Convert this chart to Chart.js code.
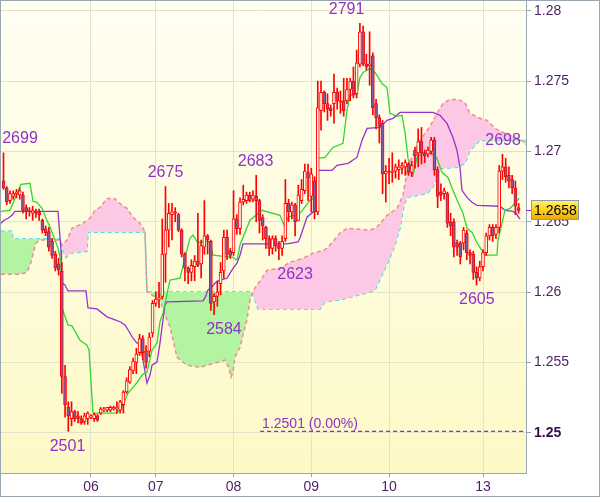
<!DOCTYPE html>
<html><head><meta charset="utf-8">
<script src="https://cdn.jsdelivr.net/npm/chart.js@4.4.1/dist/chart.umd.min.js"></script>
<style>html,body{margin:0;padding:0;background:#fff;}#wrap{width:600px;height:497px;}</style>
</head><body><div id="wrap"><canvas id="c" width="600" height="497"></canvas></div>
<script>
// ---- data ----
const dayIdx = [27, 47, 71, 95, 119, 148];
const dayLabels = ['06', '07', '08', '09', '10', '13'];
const yTicks = [1.25, 1.255, 1.26, 1.265, 1.27, 1.275, 1.28];

const opens = [
1.2679,1.2674,1.2665,1.2668,1.2670,1.2669,1.2669,1.2660,1.2658,1.2656,
1.2657,1.2657,1.2651,1.2645,1.2643,1.2636,1.2627,1.2620,1.2615,1.2540,
1.2518,1.2510,1.2515,1.2512,1.2510,1.2508,1.2510,1.2511,1.2510,1.2512,
1.2514,1.2516,1.2516,1.2516,1.2517,1.2517,1.2516,1.2520,1.2529,1.2536,
1.2544,1.2550,1.2557,1.2567,1.2558,1.2558,1.2571,1.2592,1.2595,1.2597,
1.2627,1.2644,1.2655,1.2657,1.2655,1.2644,1.2627,1.2617,1.2614,1.2618,
1.2622,1.2620,1.2632,1.2640,1.2636,1.2593,1.2597,1.2606,1.2615,1.2639,
1.2629,1.2628,1.2652,1.2645,1.2664,1.2665,1.2669,1.2666,1.2668,1.2665,
1.2653,1.2646,1.2638,1.2631,1.2638,1.2633,1.2631,1.2638,1.2663,1.2657,
1.2662,1.2651,1.2665,1.2672,1.2685,1.2668,1.2679,1.2657,1.2729,1.2742,
1.2734,1.2731,1.2734,1.2742,1.2736,1.2736,1.2736,1.2744,1.2750,1.2741,
1.2762,1.2785,1.2762,1.2761,1.2768,1.2734,1.2724,1.2720,1.2684,1.2686,
1.2685,1.2686,1.2687,1.2688,1.2689,1.2691,1.2685,1.2701,1.2699,1.2707,
1.2699,1.2698,1.2700,1.2708,1.2687,1.2671,1.2670,1.2670,1.2650,1.2650,
1.2635,1.2635,1.2635,1.2642,1.2628,1.2627,1.2614,1.2610,1.2618,1.2628,
1.2640,1.2646,1.2641,1.2646,1.2686,1.2689,1.2683,1.2680,1.2674,1.2660];
const highs = [
1.2699,1.2675,1.2672,1.2672,1.2673,1.2674,1.2671,1.2662,1.2660,1.2661,
1.2659,1.2659,1.2652,1.2647,1.2646,1.2638,1.2629,1.2624,1.2621,1.2548,
1.2522,1.2522,1.2516,1.2515,1.2512,1.2514,1.2515,1.2513,1.2514,1.2513,
1.2518,1.2518,1.2518,1.2519,1.2519,1.2522,1.2523,1.2530,1.2539,1.2547,
1.2553,1.2560,1.2570,1.2569,1.2562,1.2571,1.2594,1.2600,1.2607,1.2652,
1.2675,1.2663,1.2663,1.2660,1.2656,1.2645,1.2628,1.2618,1.2623,1.2626,
1.2656,1.2637,1.2665,1.2641,1.2637,1.2599,1.2608,1.2621,1.2644,1.2644,
1.2631,1.2672,1.2655,1.2667,1.2676,1.2671,1.2671,1.2672,1.2683,1.2666,
1.2655,1.2647,1.2640,1.2640,1.2640,1.2636,1.2640,1.2680,1.2666,1.2664,
1.2663,1.2676,1.2680,1.2691,1.2691,1.2688,1.2682,1.2750,1.2750,1.2743,
1.2741,1.2733,1.2755,1.2745,1.2743,1.2752,1.2752,1.2752,1.2760,1.2772,
1.2791,1.2789,1.2769,1.2785,1.2770,1.2737,1.2726,1.2722,1.2690,1.2695,
1.2699,1.2691,1.2694,1.2692,1.2694,1.2692,1.2693,1.2703,1.2716,1.2717,
1.2701,1.2703,1.2710,1.2710,1.2689,1.2677,1.2674,1.2671,1.2656,1.2652,
1.2637,1.2636,1.2646,1.2644,1.2630,1.2629,1.2618,1.2622,1.2630,1.2642,
1.2648,1.2648,1.2648,1.2690,1.2698,1.2695,1.2689,1.2683,1.2679,1.2663];
const lows = [
1.2673,1.2662,1.2663,1.2666,1.2667,1.2666,1.2656,1.2652,1.2654,1.2651,
1.2653,1.2651,1.2642,1.2640,1.2629,1.2624,1.2615,1.2612,1.2528,1.2511,
1.2501,1.2505,1.2508,1.2507,1.2506,1.2506,1.2506,1.2510,1.2508,1.2508,
1.2513,1.2515,1.2515,1.2515,1.2516,1.2514,1.2514,1.2514,1.2528,1.2535,
1.2542,1.2542,1.2555,1.2552,1.2546,1.2554,1.2568,1.2590,1.2589,1.2595,
1.2607,1.2632,1.2637,1.2650,1.2643,1.2625,1.2608,1.2606,1.2608,1.2608,
1.2618,1.2610,1.2627,1.2627,1.2587,1.2584,1.2590,1.2598,1.2610,1.2623,
1.2624,1.2626,1.2641,1.2641,1.2662,1.2663,1.2664,1.2664,1.2650,1.2642,
1.2637,1.2631,1.2626,1.2627,1.2629,1.2623,1.2626,1.2636,1.2650,1.2652,
1.2640,1.2651,1.2663,1.2670,1.2665,1.2657,1.2652,1.2655,1.2715,1.2728,
1.2722,1.2725,1.2720,1.2730,1.2727,1.2725,1.2734,1.2736,1.2738,1.2738,
1.2760,1.2761,1.2758,1.2747,1.2726,1.2716,1.2706,1.2670,1.2664,1.2677,
1.2678,1.2681,1.2680,1.2684,1.2683,1.2683,1.2682,1.2688,1.2689,1.2691,
1.2692,1.2696,1.2698,1.2683,1.2660,1.2665,1.2666,1.2646,1.2640,1.2625,
1.2626,1.2620,1.2630,1.2623,1.2620,1.2609,1.2605,1.2608,1.2615,1.2626,
1.2637,1.2636,1.2638,1.2642,1.2680,1.2678,1.2674,1.2670,1.2655,1.2656];
const closes = [
1.2674,1.2664,1.2670,1.2670,1.2671,1.2672,1.2658,1.2657,1.2657,1.2658,
1.2656,1.2655,1.2644,1.2642,1.2632,1.2626,1.2617,1.2616,1.2540,1.2520,
1.2512,1.2515,1.2510,1.2510,1.2507,1.2512,1.2514,1.2512,1.2513,1.2509,
1.2517,1.2517,1.2518,1.2518,1.2518,1.2518,1.2522,1.2529,1.2537,1.2545,
1.2551,1.2556,1.2567,1.2557,1.2550,1.2568,1.2592,1.2595,1.2596,1.2627,
1.2644,1.2656,1.2657,1.2656,1.2644,1.2627,1.2617,1.2614,1.2619,1.2622,
1.2619,1.2633,1.2640,1.2637,1.2592,1.2597,1.2600,1.2614,1.2639,1.2627,
1.2626,1.2652,1.2645,1.2664,1.2666,1.2669,1.2665,1.2669,1.2665,1.2651,
1.2647,1.2638,1.2631,1.2638,1.2633,1.2631,1.2636,1.2663,1.2657,1.2662,
1.2650,1.2669,1.2673,1.2686,1.2681,1.2684,1.2657,1.2731,1.2742,1.2734,
1.2730,1.2729,1.2742,1.2736,1.2735,1.2729,1.2744,1.2750,1.2740,1.2763,
1.2785,1.2762,1.2760,1.2762,1.2731,1.2724,1.2718,1.2684,1.2686,1.2685,
1.2686,1.2689,1.2689,1.2690,1.2692,1.2685,1.2690,1.2697,1.2707,1.2699,
1.2697,1.2701,1.2708,1.2687,1.2668,1.2669,1.2672,1.2649,1.2647,1.2632,
1.2632,1.2625,1.2644,1.2628,1.2626,1.2614,1.2610,1.2618,1.2628,1.2640,
1.2646,1.2640,1.2646,1.2686,1.2689,1.2682,1.2679,1.2674,1.2661,1.2658];

// Tenkan (green)
const tenkanX = [-0.77,2.0,2.93,5.4,8.18,9.1,10.34,11.88,13.12,14.35,15.9,16.82,17.75,18.06,19.91,21.14,23.61,25.77,26.39,27.62,35.03,36.88,38.43,40.59,43.06,44.29,45.83,47.38,48.3,49.23,51.39,54.48,56.02,57.56,58.49,60.03,62.19,63.73,64.66,70.83,72.07,72.99,76.08,79.78,85.34,86.88,87.81,91.51,94.6,96.14,97.07,99.23,101.7,104.78,106.02,106.94,109.1,110.03,110.96,113.12,114.66,116.82,118.36,119.29,121.45,123,123.92,124.85,126.39,127.62,129.17,132.25,133.8,135.34,137.19,138.73,140.28,141.82,143.06,144.6,146.14,147.69,148.61,152.31,152.62,153.86,154.78,156.33,157.87,159.1];
const tenkanY = [1.26574,1.26581,1.26631,1.26766,1.26773,1.26645,1.26638,1.26595,1.26525,1.26461,1.2637,1.26314,1.26212,1.25887,1.25767,1.2576,1.25658,1.25623,1.25587,1.2514,1.2514,1.25197,1.25282,1.25339,1.25417,1.25431,1.25587,1.25637,1.25789,1.25852,1.26085,1.26099,1.26247,1.26384,1.26405,1.26349,1.26363,1.26356,1.26262,1.26247,1.26226,1.26335,1.26511,1.26581,1.26546,1.26461,1.26532,1.2656,1.26652,1.26673,1.2695,1.26957,1.27028,1.27057,1.27291,1.27398,1.27412,1.27525,1.27561,1.27589,1.27561,1.27483,1.27454,1.2727,1.27249,1.27256,1.27135,1.2695,1.2683,1.26957,1.26986,1.26986,1.2695,1.26851,1.26815,1.26723,1.26638,1.2656,1.26454,1.26426,1.26349,1.26297,1.26262,1.26262,1.2637,1.26489,1.26581,1.26595,1.26631,1.26666];
// Kijun (purple)
const kijunX = [-0.77,0.15,1.39,2.62,3.55,16.82,17.75,17.9,18.98,19.91,25.46,26.08,28.86,31.94,34.41,35.96,37.5,38.43,39.97,41.2,42.13,43.06,44.29,45.22,45.83,47.38,48.3,49.23,49.85,50.46,61.57,62.19,63.12,64.35,65.28,66.82,68.98,70.83,72.07,72.99,73.92,87.5,90.9,91.51,93.67,96.14,97.07,101.39,102.93,106.33,109.1,110.65,112.19,116.2,118.36,120.22,122.38,132.56,134.72,136.88,138.73,139.97,140.9,141.51,143.06,144.6,146.14,153.24,154.78,157.25,158.18,159.41];
const kijunY = [1.26489,1.26511,1.26525,1.26546,1.26574,1.26574,1.26297,1.26071,1.2605,1.26008,1.26008,1.25887,1.2588,1.25824,1.25803,1.25789,1.25767,1.25732,1.25672,1.25637,1.25637,1.25516,1.25353,1.2541,1.2548,1.25502,1.25637,1.25803,1.25909,1.2593,1.25937,1.25958,1.26015,1.26036,1.26064,1.26085,1.26099,1.26169,1.26205,1.26262,1.26342,1.26342,1.26356,1.26384,1.26532,1.26581,1.26865,1.26865,1.26901,1.26915,1.26957,1.27078,1.27163,1.2717,1.27221,1.27235,1.27277,1.27277,1.27256,1.27199,1.27099,1.27007,1.26886,1.26723,1.26673,1.26638,1.26617,1.2661,1.26581,1.26574,1.2656,1.26518];
// Senkou span A (salmon edge)
const spanAX = [-0.77,5.09,7.25,8.49,9.41,10.03,11.27,17.44,18.06,19.6,21.14,24.54,26.7,28.24,29.78,31.94,34.41,35.34,38.12,39.97,42.13,43.06,43.67,44.29,48.3,49.85,51.39,53.55,56.64,60.65,68.36,69.6,70.22,70.83,71.45,72.99,73.92,75.15,76.08,77.01,77.62,79.78,81.33,85.34,88.43,92.44,95.52,98.61,99.85,103.86,106.02,110.03,113.12,115.28,118.36,121.45,123.3,124.85,128.55,131.64,133.8,135.65,137.81,140.28,142.44,143.98,147.07,149.23,151.7,154.78,157.87,160.03,161.57];
const spanAY = [1.26127,1.26127,1.26141,1.26212,1.26297,1.26349,1.2637,1.2637,1.26335,1.2637,1.26454,1.26489,1.26525,1.26581,1.26602,1.26666,1.26666,1.26638,1.26595,1.26532,1.26489,1.26454,1.26426,1.26001,1.25944,1.25838,1.25753,1.25537,1.2548,1.25466,1.25516,1.2546,1.25396,1.25431,1.25537,1.25608,1.25694,1.25803,1.25944,1.26001,1.26029,1.26099,1.26155,1.26169,1.26212,1.2624,1.26276,1.26297,1.26311,1.26419,1.26454,1.26447,1.2644,1.26461,1.26546,1.26595,1.26687,1.26901,1.27078,1.27178,1.2727,1.27341,1.27369,1.27369,1.27348,1.2727,1.27235,1.27221,1.27163,1.27128,1.27099,1.27078,1.27036];
// Senkou span B (cyan edge)
const spanBX = [-0.77,2.62,2.93,17.44,18.06,19.29,20.52,25.77,26.08,43.67,44.29,76.7,77.62,78.55,97.69,99.23,103.86,113.12,114.66,116.82,118.67,120.83,122.38,123.61,124.54,130.71,132.56,134.72,139.97,142.44,143.98,147.07,161.57];
const spanBY = [1.26433,1.26433,1.26377,1.26377,1.26314,1.26247,1.26276,1.2629,1.26426,1.26426,1.26001,1.26001,1.25944,1.2588,1.2588,1.2593,1.25944,1.26001,1.26015,1.2612,1.26212,1.26333,1.26454,1.26617,1.26673,1.26701,1.26744,1.26879,1.26886,1.26915,1.27007,1.27078,1.27078];

// Extreme labels
const labelText  = ['2699','2675','2683','2791','2698','2501','2584','2623','2605'];
const labelIdx   = [5.09, 50, 77.8, 105.9, 154.2, 19.75, 68.05, 90, 146.1];
const labelPrice = [1.2699, 1.2675, 1.2683, 1.2791, 1.2698, 1.2501, 1.2584, 1.2623, 1.2605];
const labelIsHigh = [true, true, true, true, true, false, false, false, false];

// Reference level
const refPrice = 1.2501;
const refStartIdx = 79.2;
const refText = '1.2501 (0.00%)';

// ---- styling ----
const X_MIN = -0.772, X_MAX = 161.27;
const Y_MIN = 1.24714, Y_MAX = 1.28069;
const frameColor = '#9aa6b2';
const gridColor = '#e3e2cb';
const tickTextColor = '#4e1f62';
const purple = '#9932cc';
const lastPrice = closes[closes.length - 1];

Chart.defaults.font.family = "'Liberation Sans', Arial, sans-serif";

const pts = (xs, ys) => xs.map((x, k) => ({ x: x, y: ys[k] }));

const bgPlugin = {
  id: 'bg',
  beforeDraw(chart) {
    const { ctx, chartArea: a } = chart;
    ctx.save();
    ctx.fillStyle = '#ffffff';
    ctx.fillRect(0, 0, chart.width, chart.height);
    const g = ctx.createLinearGradient(0, a.top, 0, a.bottom);
    g.addColorStop(0, '#fffff3');
    g.addColorStop(1, '#fdf9c6');
    ctx.fillStyle = g;
    ctx.fillRect(a.left, a.top, a.right - a.left, a.bottom - a.top);
    ctx.restore();
  }
};

const textPlugin = {
  id: 'texts',
  afterDatasetsDraw(chart) {
    const { ctx } = chart;
    const xs = chart.scales.x, ys = chart.scales.y;
    ctx.save();
    ctx.font = "16px 'Liberation Sans', Arial, sans-serif";
    ctx.fillStyle = '#9232c8';
    ctx.textAlign = 'center';
    ctx.textBaseline = 'middle';
    labelText.forEach((t, k) => {
      const px = xs.getPixelForValue(labelIdx[k]);
      const py = ys.getPixelForValue(labelPrice[k]) + (labelIsHigh[k] ? -14 : 15);
      ctx.fillText(t, px, py);
    });
    ctx.font = "14px 'Liberation Sans', Arial, sans-serif";
    ctx.textAlign = 'left';
    ctx.fillText(refText, xs.getPixelForValue(refStartIdx) + 2, ys.getPixelForValue(refPrice) - 7);
    ctx.restore();
  }
};

const framePlugin = {
  id: 'frame',
  afterDraw(chart) {
    const { ctx, chartArea: a } = chart;
    const ys = chart.scales.y;
    const py = Math.round(ys.getPixelForValue(lastPrice));
    ctx.save();
    ctx.strokeStyle = purple;
    ctx.lineWidth = 1;
    ctx.beginPath();
    ctx.moveTo(a.right, py + 0.5);
    ctx.lineTo(a.right + 5, py + 0.5);
    ctx.stroke();
    const bx = a.right + 5, bw = 48, bh = 20, by = py - 10;
    const g = ctx.createLinearGradient(0, by, 0, by + bh);
    g.addColorStop(0, '#fff27a');
    g.addColorStop(0.5, '#ffd21a');
    g.addColorStop(1, '#e8a800');
    ctx.fillStyle = g;
    ctx.fillRect(bx, by, bw, bh);
    ctx.strokeStyle = '#8b9aae';
    ctx.strokeRect(bx + 0.5, by + 0.5, bw - 1, bh - 1);
    ctx.fillStyle = '#000000';
    ctx.font = "14px 'Liberation Sans', Arial, sans-serif";
    ctx.textAlign = 'left';
    ctx.textBaseline = 'middle';
    ctx.fillText(lastPrice.toFixed(4), bx + 3, by + bh / 2 + 1);
    ctx.strokeStyle = frameColor;
    ctx.strokeRect(0.5, 0.5, chart.width - 1, chart.height - 1);
    ctx.restore();
  }
};

new Chart(document.getElementById('c'), {
  type: 'line',
  data: {
    datasets: [
      { type: 'bar', label: 'body', order: 0,
        data: opens.map((o, i) => ({ x: i, y: [o, closes[i]] })),
        backgroundColor: opens.map((o, i) => closes[i] >= o ? '#fffbe2' : '#7d5fa6'),
        borderColor: '#ff0000', borderWidth: 1, borderSkipped: false,
        barThickness: 3, grouped: false, minBarLength: 1 },
      { type: 'bar', label: 'wick', order: 1,
        data: lows.map((l, i) => ({ x: i, y: [l, highs[i]] })),
        backgroundColor: '#ff0000', borderWidth: 0,
        barThickness: 1, grouped: false },
      { label: 'tenkan', order: 2, data: pts(tenkanX, tenkanY),
        borderColor: '#2fd82f', borderWidth: 1.3, pointRadius: 0, fill: false, tension: 0 },
      { label: 'kijun', order: 2, data: pts(kijunX, kijunY),
        borderColor: purple, borderWidth: 1.3, pointRadius: 0, fill: false, tension: 0 },
      { label: 'spanA', order: 3, data: pts(spanAX, spanAY),
        borderColor: '#f08c8c', borderWidth: 1.5, borderDash: [4, 3], pointRadius: 0, tension: 0,
        fill: { target: 5, above: '#fcc8e6', below: '#b2f4a2' } },
      { label: 'spanB', order: 3, data: pts(spanBX, spanBY),
        borderColor: '#35d6ee', borderWidth: 1.5, borderDash: [4, 3], pointRadius: 0, tension: 0, fill: false },
      { label: 'ref', order: 2, data: [{ x: refStartIdx, y: refPrice }, { x: X_MAX, y: refPrice }],
        borderColor: '#8e2bd0', borderWidth: 1.3, borderDash: [4, 3], pointRadius: 0, fill: false }
    ]
  },
  options: {
    responsive: false,
    devicePixelRatio: 1,
    animation: false,
    layout: { padding: { left: 1, top: 1, right: 1, bottom: 1 } },
    plugins: { legend: { display: false }, tooltip: { enabled: false } },
    scales: {
      x: {
        type: 'linear', min: X_MIN, max: X_MAX, offset: false,
        grid: { color: gridColor, offset: false, drawTicks: true, tickLength: 4, tickColor: frameColor },
        border: { color: frameColor },
        ticks: { autoSkip: false, maxRotation: 0, padding: 2, color: tickTextColor, font: { size: 14 },
          callback: (v, i) => dayLabels[i] },
        afterBuildTicks: s => { s.ticks = dayIdx.map(v => ({ value: v })); },
        afterFit: s => { s.height = 23; s.paddingLeft = 0; s.paddingRight = 0; }
      },
      y: {
        type: 'linear', position: 'right', min: Y_MIN, max: Y_MAX,
        grid: { color: gridColor, tickLength: 5, tickColor: frameColor },
        border: { color: frameColor },
        ticks: { padding: 3,
          color: c => (c.tick && Math.abs(c.tick.value - 1.25) < 1e-9) ? '#3a0a4c' : tickTextColor,
          font: c => (c.tick && Math.abs(c.tick.value - 1.25) < 1e-9) ? { size: 14, weight: 'bold' } : { size: 14 },
          callback: v => String(+v.toFixed(3)) },
        afterBuildTicks: s => { s.ticks = yTicks.map(v => ({ value: v })); },
        afterFit: s => { s.width = 73; s.paddingTop = 0; s.paddingBottom = 0; }
      }
    }
  },
  plugins: [bgPlugin, textPlugin, framePlugin]
});
</script></body></html>
